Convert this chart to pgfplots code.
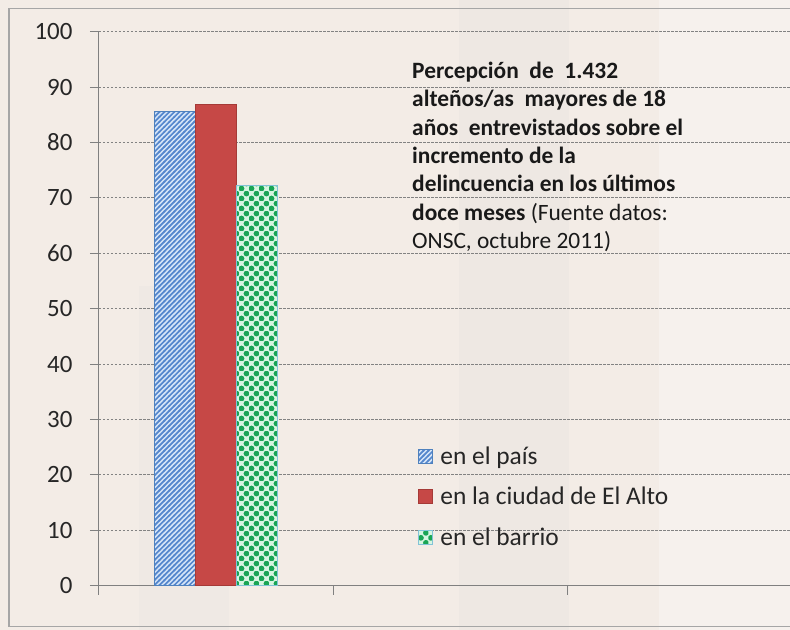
\documentclass[border=0pt]{standalone}
\usepackage{fontspec}
\setmainfont{Carlito}
\usepackage{pgfplots}
\pgfplotsset{compat=1.18}
\usetikzlibrary{patterns}
\definecolor{bgc}{RGB}{243,236,230}
\definecolor{gridc}{RGB}{130,130,130}
\definecolor{axc}{RGB}{128,128,128}
\definecolor{bluefill}{RGB}{215,230,248}
\definecolor{bluestripe}{RGB}{85,135,205}
\definecolor{blueedge}{RGB}{79,129,189}
\definecolor{redfill}{RGB}{198,72,70}
\definecolor{rededge}{RGB}{165,58,55}
\definecolor{greenfill}{RGB}{215,245,225}
\definecolor{greendot}{RGB}{25,165,85}
\definecolor{greenedge}{RGB}{130,195,215}
\pgfdeclarepatternformonly{widestripes}{\pgfqpoint{-1pt}{-1pt}}{\pgfqpoint{6pt}{6pt}}{\pgfqpoint{5pt}{5pt}}{%
  \pgfsetlinewidth{1.7pt}%
  \pgfpathmoveto{\pgfqpoint{-0.5pt}{-0.5pt}}%
  \pgfpathlineto{\pgfqpoint{5.5pt}{5.5pt}}%
  \pgfusepath{stroke}}
\pgfdeclarepatternformonly{bigdots}{\pgfqpoint{0pt}{0pt}}{\pgfqpoint{10pt}{10pt}}{\pgfqpoint{10pt}{10pt}}{%
  \pgfpathcircle{\pgfqpoint{2.5pt}{2.5pt}}{2.9pt}%
  \pgfpathcircle{\pgfqpoint{7.5pt}{7.5pt}}{2.9pt}%
  \pgfusepath{fill}}
\begin{document}
\begin{tikzpicture}[x=1bp,y=1bp]
\useasboundingbox (-99,-44.3) rectangle (691,585.7);
\clip (-99,-44.3) rectangle (691,585.7);
\fill[bgc] (-99,-44.3) rectangle (691,585.7);
% faint photo-like bands
\fill[gray!35,opacity=0.15] (360,-44.3) rectangle (470,585.7);
\fill[gray!30,opacity=0.12] (40,-44.3) rectangle (130,300);
\fill[white,opacity=0.3] (560,-44.3) rectangle (691,585.7);
\draw[gray!70,line width=1.5bp] (-90,-41) rectangle (700,577);
\begin{axis}[
  at={(0,0)}, anchor=origin,
  scale only axis,
  width=691bp, height=554bp,
  xmin=0, xmax=2.953,
  ymin=0, ymax=100,
  axis x line=bottom, axis y line=left,
  axis line style={axc, line width=1bp, -},
  xtick={0,1,2}, xticklabels={},
  ytick={0,10,...,100},
  ymajorgrids,
  grid style={gridc, dash pattern=on 2.5bp off 1.5bp, line width=0.8bp},
  tick style={axc, line width=1bp},
  major tick length=9bp,
  tick align=outside,
  /pgf/number format/assume math mode=true,
  yticklabel style={font=\fontsize{25}{25}\selectfont, text=black!85, xshift=-14bp},
  ybar=0pt, bar width=41bp,
  legend image code/.code={\draw[#1] (0bp,-7bp) rectangle (14bp,7bp);},
  legend style={at={(rel axis cs:0.462,0.255)}, anchor=north west, draw=none, fill=none,
    font=\fontsize{25.5}{25.5}\selectfont, text=black!85, inner sep=0pt, row sep=17.5bp,
    cells={anchor=west}},
  clip=false,
]
\addplot[draw=blueedge, line width=1bp, fill=bluefill, postaction={pattern=widestripes, pattern color=bluestripe}] coordinates {(0.5,85.6)};
\addplot[draw=rededge, line width=1bp, fill=redfill] coordinates {(0.5,86.8)};
\addplot[draw=greenedge, line width=1bp, fill=greenfill, postaction={pattern=bigdots, pattern color=greendot}] coordinates {(0.5,72.3)};
\legend{\hspace{5bp}en el país, \hspace{5bp}en la ciudad de El Alto, \hspace{5bp}en el barrio}
\node[anchor=north west, align=left, inner sep=0pt, font=\fontsize{23.5}{28.5}\selectfont, text=black!90]
  at (axis cs:1.3376,94.6)
  {\textbf{Percepción\ \ de\ \ 1.432}\\
   \textbf{alteños/as\ \ mayores de 18}\\
   \textbf{años\ \ entrevistados sobre el}\\
   \textbf{incremento de la}\\
   \textbf{delincuencia en los últimos}\\
   \textbf{doce meses} (Fuente datos:\\
   ONSC, octubre 2011)};
\end{axis}
\end{tikzpicture}
\end{document}
